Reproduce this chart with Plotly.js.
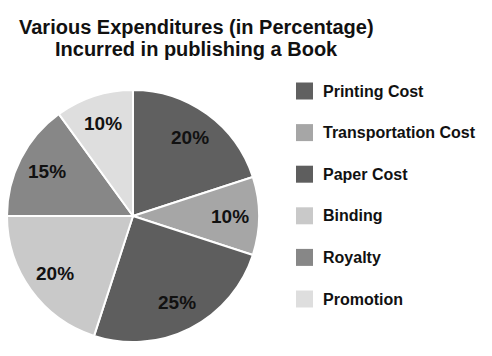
<!DOCTYPE html>
<html>
<head>
<meta charset="utf-8">
<script src="https://cdn.plot.ly/plotly-3.0.1.min.js"></script>
<style>html,body{margin:0;padding:0;background:#fff}#chart{width:492px;height:356px}</style>
</head>
<body>
<div id="chart"></div>
<script>
const categories = ["Printing Cost", "Transportation Cost", "Paper Cost", "Binding", "Royalty", "Promotion"];
const values = [20, 10, 25, 20, 15, 10];
const colors = ["#606060", "#a6a6a6", "#5e5e5e", "#c9c9c9", "#878787", "#dedede"];
const titleLines = ["Various Expenditures (in Percentage)", "Incurred in publishing a Book"];

const W = 492, H = 356;
const font = "Liberation Sans, Arial, sans-serif";

// pie geometry (pixels)
const cx = 133, cy = 216, R = 126;

const trace = {
  type: "pie",
  labels: categories,
  values: values,
  sort: false,
  direction: "clockwise",
  rotation: 0,
  marker: {colors: colors, line: {color: "#ffffff", width: 2}},
  textinfo: "none",
  hoverinfo: "label+percent",
  showlegend: false,
  domain: {x: [(cx - R) / W, (cx + R) / W], y: [(H - cy - R) / H, (H - cy + R) / H]}
};

const shapes = [], annotations = [];

// title (two lines, tighter spacing than Plotly's default line height)
const titleY = [27, 49];
titleLines.forEach((t, i) => {
  annotations.push({
    xref: "paper", yref: "paper", x: 196 / W, y: 1 - titleY[i] / H,
    xanchor: "center", yanchor: "middle", showarrow: false,
    text: "<b>" + t + "</b>",
    font: {family: font, size: 20, color: "#111111"}
  });
});

// slice labels placed along each slice's mid-angle (computed from the values)
const total = values.reduce((a, b) => a + b, 0);
let cum = 0;
values.forEach((v) => {
  const mid = (cum + v / 2) / total * 2 * Math.PI;
  cum += v;
  const r = R * 0.77;
  const x = cx + r * Math.sin(mid), y = cy - r * Math.cos(mid);
  annotations.push({
    xref: "paper", yref: "paper", x: x / W, y: 1 - y / H,
    xanchor: "center", yanchor: "middle", showarrow: false,
    text: "<b>" + Math.round(v / total * 100) + "%</b>",
    font: {family: font, size: 19, color: "#111111"}
  });
});

// custom legend (rows spaced like the reference)
const legX0 = 296, legSize = 17, legTextX = 321, legY0 = 91, legStep = 41.6;
categories.forEach((c, i) => {
  const yc = legY0 + legStep * i;
  shapes.push({
    type: "rect", xref: "paper", yref: "paper",
    x0: legX0 / W, x1: (legX0 + legSize) / W,
    y0: 1 - (yc + legSize / 2) / H, y1: 1 - (yc - legSize / 2) / H,
    fillcolor: colors[i], line: {width: 0}
  });
  annotations.push({
    xref: "paper", yref: "paper", x: legTextX / W, y: 1 - yc / H,
    xanchor: "left", yanchor: "middle", showarrow: false,
    text: "<b>" + c + "</b>",
    font: {family: font, size: 16, color: "#111111"}
  });
});

const layout = {
  width: W, height: H,
  margin: {l: 0, r: 0, t: 0, b: 0},
  paper_bgcolor: "#ffffff",
  shapes: shapes,
  annotations: annotations
};

Plotly.newPlot("chart", [trace], layout, {displayModeBar: false, staticPlot: true});
</script>
</body>
</html>
